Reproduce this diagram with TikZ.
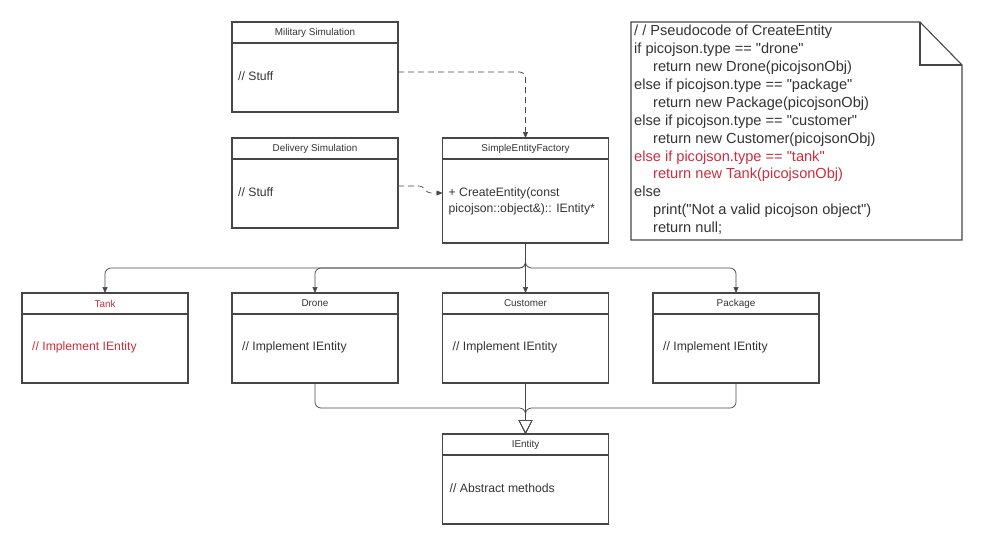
\documentclass[tikz,border=0pt]{standalone}
\usepackage{fontspec}
\setmainfont{Liberation Sans}[Ligatures=TeXOff]
\usetikzlibrary{arrows.meta, positioning, calc}
\definecolor{linegray}{RGB}{70,70,70}
\definecolor{textgray}{RGB}{51,51,51}
\definecolor{tankred}{RGB}{205,45,60}

\begin{document}
\begin{tikzpicture}[
	x=1pt, y=-1pt,
	>={Triangle[length=6pt, width=5pt]},
	% Style for class boxes
	box/.style={rectangle, draw=linegray, line width=1.1pt, minimum width=166pt, minimum height=90pt, inner sep=0pt, outer sep=0pt},
	% Style for class names and class bodies
	title/.style={font=\fontsize{9.9}{11}\selectfont, text=textgray},
	body/.style={anchor=west, font=\fontsize{12.2}{16}\selectfont, text=textgray, inner sep=0pt, align=left},
	% Style for connectors
	wire/.style={draw=linegray, line width=0.7pt, rounded corners=6pt},
	depend/.style={wire, dash pattern=on 6pt off 4pt},
	realize/.style={wire, -{Triangle[open, length=14pt, width=14pt, line width=0.7pt]}}
	]
	
	\useasboundingbox (0,0) rectangle (985,547);
	
	% 1. Simulations & Factory
	\node[box] (mil) at (315,67) {};
	\node[title] at ([yshift=-10.5pt]mil.north) {Military Simulation};
	\node[body] at ([xshift=6pt, yshift=-9pt]mil.west) {// Stuff};
	
	\node[box] (del) at (315,183) {};
	\node[title] at ([yshift=-10.5pt]del.north) {Delivery Simulation};
	\node[body] at ([xshift=6pt, yshift=-9pt]del.west) {// Stuff};
	
	\node[box, minimum height=105pt] (fac) at (525.5,190.5) {};
	\node[title] at ([yshift=-10.5pt]fac.north) {SimpleEntityFactory};
	\node[body] at ([xshift=6pt, yshift=-10.5pt]fac.west) {+ CreateEntity(const\\picojson::object\&):: IEntity*};
	
	% 2. Entities
	\node[box] (tank) at (105,338) {};
	\node[title, text=tankred] at ([yshift=-10.5pt]tank.north) {Tank};
	\node[body, text=tankred] at ([xshift=10pt, yshift=-9pt]tank.west) {// Implement IEntity};
	
	\node[box] (drone) at (315,338) {};
	\node[title] at ([yshift=-10.5pt]drone.north) {Drone};
	\node[body] at ([xshift=10pt, yshift=-9pt]drone.west) {// Implement IEntity};
	
	\node[box] (cust) at (525.5,338) {};
	\node[title] at ([yshift=-10.5pt]cust.north) {Customer};
	\node[body] at ([xshift=10pt, yshift=-9pt]cust.west) {// Implement IEntity};
	
	\node[box] (pack) at (736,338) {};
	\node[title] at ([yshift=-10.5pt]pack.north) {Package};
	\node[body] at ([xshift=10pt, yshift=-9pt]pack.west) {// Implement IEntity};
	
	% 3. Interface
	\node[box] (ient) at (525.5,479) {};
	\node[title] at ([yshift=-10.5pt]ient.north) {IEntity};
	\node[body] at ([xshift=7pt, yshift=-9pt]ient.west) {// Abstract methods};
	
	% Header lines of every class box
	\foreach \n in {mil, del, fac, tank, drone, cust, pack, ient}
		\draw[draw=linegray, line width=1.1pt] ([yshift=-21pt]\n.north west) -- ([yshift=-21pt]\n.north east);
	
	% 4. Dependencies on the factory (dashed)
	\draw[depend, ->] ([yshift=-5pt]mil.east) -| (fac.north);
	\draw[depend, ->, rounded corners=3pt] ([yshift=-3pt]del.east) -- ++(24,0) -- ++(6,7) -- ([yshift=-2.5pt]fac.west);
	
	% 5. Factory creates the entities
	\coordinate (split) at (525.5,268);
	\draw[wire, ->] (fac.south) -- (split) -| (tank.north);
	\draw[wire, ->] (fac.south) -- (split) -| (drone.north);
	\draw[wire, ->] (fac.south) -- (cust.north);
	\draw[wire, ->] (fac.south) -- (split) -| (pack.north);
	
	% 6. Entities realize IEntity
	\coordinate (merge) at (525.5,408);
	\draw[realize] (drone.south) |- (merge) -- (ient.north);
	\draw[realize] (cust.south) -- (ient.north);
	\draw[realize] (pack.south) |- (merge) -- (ient.north);
	
	% 7. Pseudocode note with folded corner
	\coordinate (noteNW) at (631,22);
	\coordinate (noteSE) at (962,240);
	\coordinate (fold) at (920,65);
	\draw[draw=linegray, line width=1.1pt] (noteNW) -- (fold |- noteNW) -- (noteSE |- fold) -- (noteSE) -- (noteNW |- noteSE) -- cycle;
	\draw[draw=linegray, line width=1.1pt] (fold |- noteNW) -- (fold) -- (noteSE |- fold);
	\node[anchor=north west, inner sep=0pt, align=left, text=textgray,
		font=\fontsize{14.6}{17.9}\selectfont] (code) at (634,25) {
		/ / Pseudocode of CreateEntity\\
		if picojson.type == "drone"\\
		\hspace*{19pt}return new Drone(picojsonObj)\\
		else if picojson.type == "package"\\
		\hspace*{19pt}return new Package(picojsonObj)\\
		else if picojson.type == "customer"\\
		\hspace*{19pt}return new Customer(picojsonObj)\\
		\textcolor{tankred}{else if picojson.type == "tank"}\\
		\hspace*{19pt}\textcolor{tankred}{return new Tank(picojsonObj)}\\
		else\\
		\hspace*{19pt}print("Not a valid picojson object")\\
		\hspace*{19pt}return null;
	};
	
\end{tikzpicture}
\end{document}
